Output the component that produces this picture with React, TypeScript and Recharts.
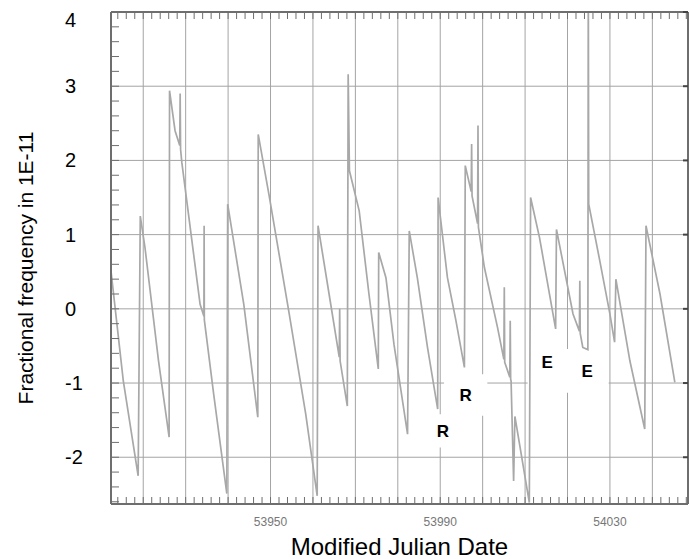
import React from 'react'
import { ComposedChart, Line, XAxis, YAxis, CartesianGrid, ReferenceArea, Label } from 'recharts'

// readings (MJD, fractional frequency in 1E-11)
const mjd = [
  53912.3, 53915.3, 53918.8, 53919.3, 53920.4, 53923.6, 53926.1, 53926.2, 53927.5, 53928.6,
  53928.7, 53928.8, 53929.1, 53933.4, 53934.3, 53934.35, 53934.4, 53936.6, 53939.7, 53939.9,
  53943.7, 53947.0, 53947.1, 53949.6, 53954.3, 53958.3, 53961.0, 53961.2, 53963.8, 53966.2,
  53966.3, 53966.4, 53968.1, 53968.3, 53968.6, 53970.9, 53973.2, 53975.4, 53975.5, 53977.2,
  53979.1, 53982.3, 53982.7, 53984.6, 53987.0, 53989.4, 53989.5, 53991.7, 53993.7, 53995.7,
  53995.9, 53997.3, 53997.4, 53997.5, 53998.8, 53998.9, 53999.0, 54000.4, 54003.5, 54005.0,
  54005.1, 54005.2, 54006.4, 54006.5, 54006.6, 54006.7, 54007.3, 54007.6, 54011.0, 54011.3,
  54013.4, 54017.2, 54017.4, 54021.3, 54022.8, 54022.9, 54023.0, 54023.6, 54024.8, 54024.9,
  54025.0, 54027.6, 54030.0, 54031.1, 54031.4, 54034.7, 54038.2, 54038.5, 54041.8, 54045.3,
]
const frequency = [
  0.56, -0.97, -2.25, 1.25, 0.83, -0.70, -1.73, 2.94, 2.40, 2.20,
  2.90, 2.15, 1.97, 0.06, -0.10, 1.12, -0.15, -1.15, -2.49, 1.41,
  0.06, -1.46, 2.35, 1.55, -0.03, -1.42, -2.52, 1.12, 0.20, -0.65,
  0.00, -0.70, -1.31, 3.16, 1.86, 1.32, 0.20, -0.81, 0.76, 0.42,
  -0.48, -1.69, 1.05, 0.42, -0.52, -1.35, 1.50, 0.42, -0.16, -0.79,
  1.93, 1.58, 2.22, 1.52, 1.15, 2.47, 1.10, 0.56, -0.25, -0.68,
  0.29, -0.72, -0.92, -0.16, -0.95, -0.97, -2.32, -1.45, -2.61, 1.50,
  0.96, -0.27, 1.07, -0.07, -0.30, 0.38, -0.33, -0.52, -0.55, 4.50,
  1.41, 0.65, -0.07, -0.45, 0.40, -0.70, -1.62, 1.12, 0.20, -0.99,
]

const gridDays = [53920, 53930, 53940, 53950, 53960, 53970, 53980, 53990, 54000, 54010, 54020, 54030, 54040]
const labelledDays = [53950, 53990, 54030]
const freqTicks = [-2, -1, 0, 1, 2, 3, 4]
const minorDays = Array.from({ length: 68 }, (_, i) => 53914 + 2 * i)
const minorFreq = Array.from({ length: 34 }, (_, i) => Math.round((-2.6 + 0.2 * i) * 10) / 10)

// white patches with letters pasted over the plot
const marks = [
  { letter: 'R', x1: 53986.2, x2: 53995.0, y1: -1.87, y2: -1.42 },
  { letter: 'R', x1: 53990.9, x2: 54001.1, y1: -1.44, y2: -0.88 },
  { letter: 'E', x1: 54010.6, x2: 54019.8, y1: -1.04, y2: -0.39 },
  { letter: 'E', x1: 54019.6, x2: 54029.7, y1: -1.13, y2: -0.54 },
]

const data = mjd.map((d, i) => ({ mjd: d, f: frequency[i] }))

const xDomain = [53912.4, 54048.4]
const yDomain = [-2.63, 4]
const frame = '#6e6e6e'
const font = '"Liberation Sans", Arial, sans-serif'

const YTick = ({ y, payload }: any) => (
  <text x={65} y={Math.max(y, 20)} dy={7} fontSize={20} fontFamily={font} fill="#000">
    {payload.value}
  </text>
)

const XTick = ({ x, y, payload }: any) =>
  labelledDays.includes(payload.value) ? (
    <text x={x} y={y} dy={14} textAnchor="middle" fontSize={12} fontFamily={font} fill="#777">
      {payload.value}
    </text>
  ) : null

const YTitle = () => (
  <text
    x={25}
    y={268}
    transform="rotate(-90 25 268)"
    textAnchor="middle"
    dominantBaseline="central"
    fontSize={21}
    fontFamily={font}
    fill="#000"
  >
    Fractional frequency in 1E-11
  </text>
)

const noTick = () => ''

export default function App() {
  return (
    <div style={{ position: 'absolute', left: 0, top: 0 }}>
      <ComposedChart width={689} height={559} data={data} margin={{ top: 12, right: 1, left: 0, bottom: 0 }}>
        <CartesianGrid stroke="#a4a4a4" strokeWidth={1} />
        <XAxis
          xAxisId="minorB"
          type="number"
          dataKey="mjd"
          domain={xDomain}
          allowDataOverflow
          ticks={minorDays}
          interval={0}
          orientation="bottom"
          mirror
          height={20}
          tickSize={7}
          axisLine={false}
          tickLine={{ stroke: frame }}
          tickFormatter={noTick}
        />
        <XAxis
          type="number"
          dataKey="mjd"
          domain={xDomain}
          allowDataOverflow
          ticks={gridDays}
          interval={0}
          height={55}
          tickLine={false}
          axisLine={{ stroke: frame, strokeWidth: 2 }}
          tick={<XTick />}
        >
          <Label value="Modified Julian Date" position="insideBottom" offset={4} fontSize={24} fontFamily={font} fill="#000" />
        </XAxis>
        <XAxis
          xAxisId="minorT"
          type="number"
          dataKey="mjd"
          domain={xDomain}
          allowDataOverflow
          ticks={minorDays}
          interval={0}
          orientation="top"
          mirror
          height={20}
          tickSize={7}
          axisLine={{ stroke: frame, strokeWidth: 2 }}
          tickLine={{ stroke: frame }}
          tickFormatter={noTick}
        />
        <YAxis
          yAxisId="minorL"
          type="number"
          domain={yDomain}
          allowDataOverflow
          ticks={minorFreq}
          interval={0}
          orientation="left"
          mirror
          width={20}
          tickSize={8}
          axisLine={false}
          tickLine={{ stroke: frame }}
          tickFormatter={noTick}
        />
        <YAxis
          type="number"
          domain={yDomain}
          allowDataOverflow
          ticks={freqTicks}
          interval={0}
          width={111}
          tickLine={false}
          axisLine={{ stroke: frame, strokeWidth: 2 }}
          tick={<YTick />}
        >
          <Label content={<YTitle />} />
        </YAxis>
        <YAxis
          yAxisId="right"
          type="number"
          domain={yDomain}
          allowDataOverflow
          ticks={freqTicks}
          interval={0}
          orientation="right"
          mirror
          width={20}
          tickSize={5}
          axisLine={{ stroke: frame, strokeWidth: 2 }}
          tickLine={{ stroke: '#444', strokeWidth: 2 }}
          tickFormatter={noTick}
        />
        {marks.map((m, i) => (
          <ReferenceArea
            key={i}
            x1={m.x1}
            x2={m.x2}
            y1={m.y1}
            y2={m.y2}
            fill="#fff"
            fillOpacity={1}
            stroke="none"
            label={{ value: m.letter, position: 'center', fontSize: 17, fontWeight: 'bold', fill: '#000', fontFamily: font }}
          />
        ))}
        {/* invisible copies so the frame axes have a series to scale against */}
        <Line xAxisId="minorT" yAxisId="minorL" dataKey="f" stroke="none" dot={false} legendType="none" isAnimationActive={false} />
        <Line xAxisId="minorB" yAxisId="right" dataKey="f" stroke="none" dot={false} legendType="none" isAnimationActive={false} />
        <Line
          type="linear"
          dataKey="f"
          stroke="#a8a8a8"
          strokeWidth={1.7}
          dot={false}
          isAnimationActive={false}
        />
      </ComposedChart>
    </div>
  )
}
